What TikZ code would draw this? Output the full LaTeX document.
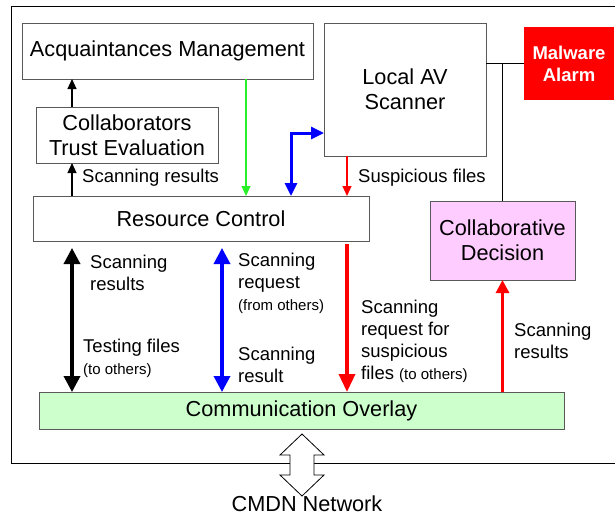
\documentclass[tikz,border=0pt]{standalone}
\usepackage{fontspec}
\setmainfont{Liberation Sans}
\usetikzlibrary{arrows.meta}

\definecolor{pinkfill}{RGB}{255,204,255}
\definecolor{greenfill}{RGB}{204,255,204}
\definecolor{brightgreen}{RGB}{40,240,40}
\newcommand{\smallnote}[1]{{\fontsize{15}{18}\selectfont #1}}

\begin{document}
\begin{tikzpicture}[x=1pt,y=-1pt,
  box/.style={draw=black!65, line width=0.9pt, inner sep=0pt, outer sep=0pt, anchor=north west,
    align=center, font=\fontsize{21.7}{25}\selectfont},
  lbl/.style={inner sep=0pt, anchor=west, align=left, font=\fontsize{18.5}{22}\selectfont},
  thin arrow/.style={-{Triangle[width=9pt,length=10pt]}, line width=1.2pt},
  fat arrow/.style={line width=3.5pt, {Triangle[width=16pt,length=16pt]}-{Triangle[width=16pt,length=16pt]}}]
  \useasboundingbox (0,0) rectangle (615,517);

  % Node frame and link to the network
  \draw[line width=0.9pt] (615,6) -- (11,6) -- (11,463) -- (615,463);
  \draw[fill=white, line width=0.8pt] (302,434) -- (324,455) -- (314,455) -- (314,475) -- (324,475)
    -- (302,496) -- (280,475) -- (290,475) -- (290,455) -- (280,455) -- cycle;
  \node[font=\fontsize{21.7}{25}\selectfont, inner sep=0pt] (net) at (307,504) {CMDN Network};

  % Blocks
  \node[box, minimum width=291pt, minimum height=56pt] (am) at (22,23) {Acquaintances Management};
  \node[box, minimum width=182pt, minimum height=56pt] (cte) at (36,107) {Collaborators\\Trust Evaluation};
  \node[box, minimum width=336pt, minimum height=45pt] (rc) at (33,196) {Resource Control};
  \node[box, minimum width=162pt, minimum height=133pt] (av) at (324,23) {Local AV\\Scanner};
  \node[box, draw=none, fill=red, text=white, minimum width=90pt, minimum height=73pt,
    font=\fontsize{18.5}{22}\selectfont\bfseries] (ma) at (524,27) {Malware\\Alarm};
  \node[box, fill=pinkfill, minimum width=145pt, minimum height=79pt] (cd) at (430,201) {Collaborative\\Decision};
  \node[box, fill=greenfill, minimum width=525pt, minimum height=37pt] (co) at (39,392) {Communication Overlay};

  % Columns of the vertical links
  \coordinate (colA) at (72,0);
  \coordinate (colL) at (222,0);
  \coordinate (colG) at (246,0);
  \coordinate (colB) at (291,0);
  \coordinate (colR) at (347,0);

  % Links inside the node
  \draw[thin arrow] (colA |- cte.north) -- (colA |- am.south);
  \draw[thin arrow] (colA |- rc.north) -- (colA |- cte.south);
  \draw[thin arrow, brightgreen] (colG |- am.south) -- (colG |- rc.north);
  \draw[thin arrow, red] (colR |- av.south) -- (colR |- rc.north);
  \draw[line width=3pt, blue, {Triangle[width=12pt,length=13pt]}-{Triangle[width=12pt,length=13pt]}]
    (colB |- rc.north) |- ([yshift=23pt]av.south west);
  \draw[line width=0.9pt] (av.east |- ma.west) -- (ma.west);
  \draw[line width=0.9pt] (cd.north |- ma.west) -- (cd.north);

  % Links to the overlay
  \draw[fat arrow, shorten <=7pt] (colA |- rc.south) -- (colA |- co.north);
  \draw[fat arrow, blue, shorten <=7pt] (colL |- rc.south) -- (colL |- co.north);
  \draw[line width=3.5pt, red, -{Triangle[width=16pt,length=18pt]}, shorten <=3pt] (colR |- rc.south) -- (colR |- co.north);
  \draw[line width=3pt, red, -{Triangle[width=13pt,length=13pt]}] (cd.south |- co.north) -- (cd.south);

  % Labels
  \node[lbl] (l1) at (82,178) {Scanning results};
  \node[lbl] (l2) at (358,178) {Suspicious files};
  \node[lbl] (l3) at (90,273) {Scanning\\results};
  \node[lbl] (l4) at (83,358) {Testing files\\\smallnote{(to others)}};
  \node[lbl] (l5) at (238,283) {Scanning\\request\\\smallnote{(from others)}};
  \node[lbl] (l6) at (238,365) {Scanning\\result};
  \node[lbl] (l7) at (361,341) {Scanning\\request for\\suspicious\\files \smallnote{(to others)}};
  \node[lbl] (l8) at (514,341) {Scanning\\results};
\end{tikzpicture}
\end{document}
